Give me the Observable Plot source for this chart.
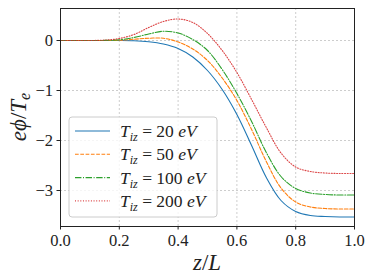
<!DOCTYPE html>
<html><head><meta charset="utf-8">
<script src="https://cdn.jsdelivr.net/npm/d3@7"></script>
<script src="https://cdn.jsdelivr.net/npm/@observablehq/plot@0.6"></script>
<style>body{margin:0;background:#fff}</style>
</head><body><div id="chart"></div>
<script>
const z      = [0, 0.05, 0.1, 0.15, 0.2, 0.25, 0.3, 0.35, 0.4, 0.45, 0.5, 0.55, 0.6, 0.65, 0.7, 0.75, 0.8, 0.85, 0.9, 0.95, 1.0];
const phi20  = [0, 0, 0, 0, 0, -0.005, -0.025, -0.07, -0.16, -0.33, -0.6, -0.98, -1.48, -2.1, -2.74, -3.2, -3.42, -3.5, -3.52, -3.53, -3.53];
const phi50  = [0, 0, 0, 0, 0.005, 0.025, 0.045, 0.045, -0.03, -0.17, -0.4, -0.75, -1.2, -1.78, -2.42, -2.95, -3.23, -3.33, -3.36, -3.37, -3.37];
const phi100 = [0, 0, 0, 0.002, 0.015, 0.06, 0.13, 0.185, 0.15, 0.02, -0.2, -0.58, -1.06, -1.62, -2.24, -2.72, -2.96, -3.05, -3.08, -3.09, -3.09];
const phi200 = [0, 0, 0, 0.008, 0.04, 0.12, 0.26, 0.38, 0.43, 0.36, 0.14, -0.2, -0.64, -1.18, -1.74, -2.25, -2.53, -2.62, -2.65, -2.66, -2.66];
const labels = ["20", "50", "100", "200"];
const xTicks = [0, 0.2, 0.4, 0.6, 0.8, 1.0];
const yTicks = [-3, -2, -1, 0];

const colors = ["#1f77b4", "#ff7f0e", "#2ca02c", "#d62728"];
const dashes = [null, "3.7,1.6", "6.4,1.6,1,1.6", "1,1.65"];
const values = [phi20, phi50, phi100, phi200];

const rows = [];
values.forEach((v, s) => v.forEach((y, i) => rows.push({s, x: z[i], y})));

const serif = "'Liberation Serif', 'DejaVu Serif', serif";
const W = 374, H = 280;
const mL = 60, mR = 20, mT = 8, mB = 54;

const marks = [
  Plot.gridX(xTicks, {stroke: "#b0b0b0", strokeOpacity: 0.8, strokeDasharray: "2,2", strokeWidth: 0.8}),
  Plot.gridY(yTicks, {stroke: "#b0b0b0", strokeOpacity: 0.8, strokeDasharray: "2,2", strokeWidth: 0.8}),
  Plot.axisX({ticks: xTicks, tickFormat: d3.format(".1f"), tickSize: 3.5, tickPadding: 4, fontSize: 16.5, label: null, stroke: "#222"}),
  Plot.axisY({ticks: yTicks, tickFormat: d => d < 0 ? "\u2212" + Math.abs(d) : String(d), tickSize: 3.5, tickPadding: 4, fontSize: 16.5, label: null, stroke: "#222"})
];
values.forEach((v, s) => {
  marks.push(Plot.line(rows.filter(r => r.s === s), {x: "x", y: "y", stroke: colors[s], strokeWidth: 1.1, strokeOpacity: s === 3 ? 0.85 : 1, strokeDasharray: dashes[s], curve: "catmull-rom"}));
});
marks.push(Plot.frame({stroke: "#222", strokeWidth: 1}));

const chart = Plot.plot({
  width: W, height: H,
  marginLeft: mL, marginRight: mR, marginTop: mT, marginBottom: mB,
  style: {fontFamily: serif, fontSize: "16px", color: "#222", background: "#fff"},
  x: {domain: [0, 1]},
  y: {domain: [-3.72, 0.64]},
  marks
});
document.getElementById("chart").appendChild(chart);

const svg = d3.select(chart);
// axis labels
const xl = svg.append("text").attr("x", mL + (W - mL - mR) / 2).attr("y", 270)
  .attr("text-anchor", "middle").attr("font-size", 23).attr("font-family", serif).attr("fill", "#222");
xl.append("tspan").attr("font-style", "italic").text("z");
xl.append("tspan").text("/");
xl.append("tspan").attr("font-style", "italic").text("L");

const yl = svg.append("text").attr("transform", `translate(26,${mT + (H - mT - mB) / 2}) rotate(-90)`)
  .attr("text-anchor", "middle").attr("font-size", 23).attr("font-family", serif).attr("fill", "#222");
yl.append("tspan").attr("font-style", "italic").text("e\u03D5");
yl.append("tspan").text("/");
yl.append("tspan").attr("font-style", "italic").text("T");
yl.append("tspan").attr("font-style", "italic").attr("font-size", 16).attr("dy", 4).text("e");

// legend
const lg = svg.append("g").attr("transform", "translate(69,117)");
lg.append("rect").attr("width", 148).attr("height", 100).attr("rx", 3)
  .attr("fill", "#fff").attr("fill-opacity", 0.8).attr("stroke", "#ccc").attr("stroke-width", 1);
labels.forEach((lab, i) => {
  const cy = 14 + i * 23.3;
  lg.append("line").attr("x1", 6).attr("x2", 41).attr("y1", cy).attr("y2", cy)
    .attr("stroke", colors[i]).attr("stroke-width", 1.1).attr("stroke-opacity", i === 3 ? 0.85 : 1)
    .attr("stroke-dasharray", dashes[i]);
  const t = lg.append("text").attr("x", 51).attr("y", cy + 6).attr("text-anchor", "start")
    .attr("font-size", 17.5).attr("font-family", serif).attr("fill", "#222");
  t.append("tspan").attr("font-style", "italic").text("T");
  t.append("tspan").attr("font-style", "italic").attr("font-size", 12).attr("dy", 4).text("iz");
  t.append("tspan").attr("dy", -4).text(" = " + lab + " ");
  t.append("tspan").attr("font-style", "italic").text("eV");
});
</script>
</body></html>
